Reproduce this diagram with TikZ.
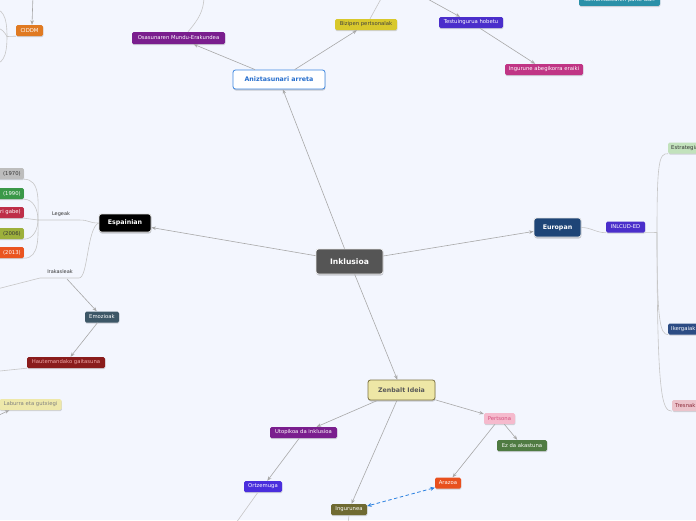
\documentclass[tikz,border=0pt]{standalone}
\usepackage{fontspec}
\setmainfont{DejaVu Sans}
\usetikzlibrary{arrows.meta,shadows}
\definecolor{bgc}{HTML}{F3F6FE}
\definecolor{edgec}{HTML}{A8A8A8}
\definecolor{linec}{HTML}{C6C6C6}
\definecolor{dashc}{HTML}{2A80E0}
\definecolor{cinkl}{HTML}{555555}
\definecolor{canizd}{HTML}{3C86E0}
\definecolor{canizt}{HTML}{266ECD}
\definecolor{ceur}{HTML}{1E4577}
\definecolor{czenf}{HTML}{EEE7A6}
\definecolor{czend}{HTML}{7D7341}
\definecolor{cpurple}{HTML}{7A1E8E}
\definecolor{cyellow}{HTML}{D8C82C}
\definecolor{cviolet}{HTML}{4A2ECB}
\definecolor{cviolet2}{HTML}{4A2EDD}
\definecolor{cmagenta}{HTML}{C03585}
\definecolor{cteal}{HTML}{2A90A8}
\definecolor{corange}{HTML}{E07A22}
\definecolor{cgray}{HTML}{BDBDBD}
\definecolor{cgreen}{HTML}{3A9848}
\definecolor{cred}{HTML}{BE2E48}
\definecolor{colive}{HTML}{9DB03C}
\definecolor{cred2}{HTML}{EA5420}
\definecolor{cslate}{HTML}{3D5767}
\definecolor{cdred}{HTML}{8A1C1C}
\definecolor{cdredt}{HTML}{F0A8A8}
\definecolor{cpale}{HTML}{EEE8AA}
\definecolor{cpgreen}{HTML}{C2E2BC}
\definecolor{cnavy}{HTML}{2C4C84}
\definecolor{cpink}{HTML}{EBC3CB}
\definecolor{cpinkt}{HTML}{8A2838}
\definecolor{cdolive}{HTML}{6F6A32}
\definecolor{cara}{HTML}{E8501E}
\definecolor{cper}{HTML}{F5BACD}
\definecolor{cpert}{HTML}{D4507E}
\definecolor{cez}{HTML}{4F7B42}
\tikzset{
  edge/.style={draw=edgec, line width=0.6pt, -{Stealth[length=4.5pt,width=3.5pt]}},
  plainline/.style={draw=linec, line width=0.6pt},
  leaf/.style={fill=#1, rounded corners=1.5pt, minimum height=11pt, inner xsep=3pt, inner ysep=0pt,
     font=\fontsize{5.3}{6}\selectfont, text=white,
     drop shadow={shadow xshift=0.3pt, shadow yshift=-1.2pt, fill=black, opacity=0.15}},
  clipleaf/.style={leaf=#1, text width=34pt, align=right},
  clipleafr/.style={leaf=#1, text width=40pt, align=left},
  mainbox/.style={rounded corners=2.5pt, minimum height=19pt, font=\fontsize{6.3}{8}\selectfont\bfseries,
     line width=0.8pt,
     drop shadow={shadow xshift=0.4pt, shadow yshift=-1.5pt, fill=black, opacity=0.18}},
  lbl/.style={font=\fontsize{5}{6}\selectfont, text=black!80, inner sep=0pt}
}
\begin{document}
\begin{tikzpicture}[x=1pt,y=-1pt]
\useasboundingbox (0,0) rectangle (696,520);
\clip (0,0) rectangle (696,520);
\fill[bgc] (0,0) rectangle (696,520);

% main nodes
\node[mainbox, fill=cinkl, draw=white!85!gray, text=white, minimum width=67pt, minimum height=25pt,
      font=\fontsize{7.6}{9}\selectfont\bfseries] (inkl) at (349.5,261.5) {Inklusioa};
\node[mainbox, fill=white, draw=canizd, text=canizt, minimum width=92pt] (aniz) at (279,79.5) {Aniztasunari arreta};
\node[mainbox, fill=black, draw=white!75!gray, text=white, minimum width=52pt, minimum height=18pt] (esp) at (125,223) {Espainian};
\node[mainbox, fill=ceur, draw=white!80!gray, text=white, minimum width=47pt] (eur) at (557.5,227.5) {Europan};
\node[mainbox, fill=czenf, draw=czend, text=black!65, minimum width=67pt, minimum height=20pt] (zen) at (401.5,390) {Zenbalt Ideia};

% top area
\node[leaf=cpurple, minimum width=93pt, minimum height=12pt] (osa) at (178.5,38) {Osasunaren Mundu-Erakundea};
\node[leaf=cyellow, text=black!75, minimum width=62pt] (biz) at (366,24.5) {Bizipen pertsonalak};
\node[leaf=cviolet, minimum width=64pt] (tes) at (471,22.5) {Testuingurua hobetu};
\node[leaf=cmagenta, minimum width=78pt] (ing) at (544,69.5) {Ingurune abegikorra eraiki};
\node[leaf=cteal, minimum width=81pt] (kom) at (619.5,0.3) {komunitatearen parte izan};
\node[leaf=corange, minimum width=27pt] (cid) at (29.5,30.5) {CIDDM};

% Espainian subtree
\node[clipleaf=cgray, text=black!80, anchor=east] (n70) at (24,173.5) {(1970)};
\node[clipleaf=cgreen, anchor=east] (n90) at (24,193.5) {(1990)};
\node[clipleaf=cred, anchor=east] (ngabe) at (24,212.5) {ri gabe)};
\node[clipleaf=colive, text=black!80, anchor=east] (n06) at (24,233.5) {(2006)};
\node[clipleaf=cred2, anchor=east] (n13) at (24,252.5) {(2013)};
\node[lbl] (legeak) at (61,214) {Legeak};
\node[lbl] (irak) at (60,272) {Irakasleak};
\node[leaf=cslate, minimum width=34pt] (emo) at (102,317) {Emozioak};
\node[leaf=cdred, text=cdredt, minimum width=78pt] (hau) at (66,362.5) {Hautemandako gaitasuna};
\node[leaf=cpale, text=black!50, minimum width=62pt] (lab) at (30.5,404.5) {Laburra eta gutxiegi};

% Europan subtree
\node[leaf=cviolet, minimum width=39pt] (inc) at (625.5,227) {INLCUD-ED};
\node[clipleafr=cpgreen, text=black!80, anchor=west] (est) at (668,148) {Estrategiak};
\node[clipleafr=cnavy, anchor=west] (ike) at (668,329) {Ikergaiak};
\node[clipleafr=cpink, text=cpinkt, anchor=west] (tre) at (672,405.5) {Tresnak};

% Zenbalt Ideia subtree
\node[leaf=cpurple, minimum width=67pt] (uto) at (303.5,432.5) {Utopikoa da inklusioa};
\node[leaf=cviolet2, minimum width=38pt] (ort) at (263,486.5) {Ortzemuga};
\node[leaf=cdolive, minimum width=36pt] (ingu) at (349,509.5) {Ingurunea};
\node[leaf=cara, minimum width=26pt] (ara) at (448,483) {Arazoa};
\node[leaf=cper, text=cpert, minimum width=31pt] (per) at (499.5,418.5) {Pertsona};
\node[leaf=cez, minimum width=50pt] (ez) at (522,445.5) {Ez da akastuna};

% off-canvas / junction coordinates
\coordinate (osaup) at (204,-4);
\coordinate (bizup) at (382,-3);
\coordinate (tesin) at (424,-3);
\coordinate (cidin) at (33,-5);
\coordinate (cb) at (7,36.5);
\coordinate (cb1) at (-6,9);
\coordinate (cb2) at (-4,28);
\coordinate (cb3) at (-6,64);
\coordinate (jl) at (38,220);
\coordinate (jl2) at (79,220);
\coordinate (ir1) at (40,278);
\coordinate (ir2) at (79,278);
\coordinate (irout) at (-5,289.5);
\coordinate (iremo) at (67,279);
\coordinate (hauout) at (-5,371.5);
\coordinate (labin) at (-4,416.5);
\coordinate (kb) at (657,232.5);
\coordinate (ortout) at (236,523);
\coordinate (inguout) at (348,523);

% main connectors
\draw[edge] (inkl) -- (aniz);
\draw[edge] (inkl) -- (esp);
\draw[edge] (inkl) -- (eur);
\draw[edge] (inkl) -- (zen);

% top
\draw[edge] (aniz) -- (osa);
\draw[edge] (aniz) -- (biz);
\draw[plainline] ([xshift=9.5pt]osa.north) to[out=50,in=-90] (osaup);
\draw[plainline] ([xshift=4pt]biz.north) -- (bizup);
\draw[edge] (tesin) -- ([xshift=-11pt]tes.north);
\draw[edge] (tes) -- (ing);
\draw[edge] (cidin) -- ([xshift=2.5pt]cid.north);
\draw[plainline] (cid.south west) -- (cb);
\draw[plainline] (cb) to[out=90,in=0] (cb1);
\draw[plainline] (cb) to[out=120,in=0] (cb2);
\draw[plainline] (cb) to[out=-90,in=0] (cb3);

% Espainian
\draw[plainline] (esp.west) .. controls (88,223) and (90,220) .. (jl2) -- (jl);
\draw[plainline] (jl) to[out=90,in=0] (n70.south east);
\draw[plainline] (jl) to[out=90,in=0] (n90.south east);
\draw[plainline] (jl) -- (ngabe.south east);
\draw[plainline] (jl) to[out=-90,in=0] (n06.south east);
\draw[plainline] (jl) to[out=-90,in=0] (n13.south east);
\draw[plainline] (esp.west) .. controls (87,228) and (88,278) .. (ir2) -- (ir1) -- (irout);
\draw[edge] (iremo) -- (emo);
\draw[edge] (emo) -- (hau);
\draw[plainline] (hau.south west) -- (hauout);
\draw[edge] (labin) -- ([xshift=10pt]lab.south west);

% Europan
\draw[plainline] (eur.east) to[out=0,in=180] (inc.south west);
\draw[plainline] (inc.south east) -- (kb);
\draw[plainline] (kb) .. controls (657,162) and (659,153) .. (est.south west);
\draw[plainline] (kb) .. controls (657,322) and (660,334) .. (ike.south west);
\draw[plainline] (kb) .. controls (657,398) and (662,411) .. (tre.south west);

% Zenbalt Ideia
\draw[edge] (zen) -- (uto);
\draw[edge] (zen) -- (ingu);
\draw[edge] (zen) -- (per);
\draw[edge] (uto) -- (ort);
\draw[plainline] ([xshift=-5pt]ort.south) -- (ortout);
\draw[plainline] (ingu.south) -- (inguout);
\draw[edge] (per) -- (ara);
\draw[edge] (per) -- (ez);
\draw[draw=dashc, line width=0.8pt, dash pattern=on 3.5pt off 2.5pt,
      {Stealth[length=4.5pt,width=4pt]}-{Stealth[length=4.5pt,width=4pt]}]
      ([yshift=1pt]ara.south west) -- ([yshift=3.5pt]ingu.east);
\end{tikzpicture}
\end{document}
